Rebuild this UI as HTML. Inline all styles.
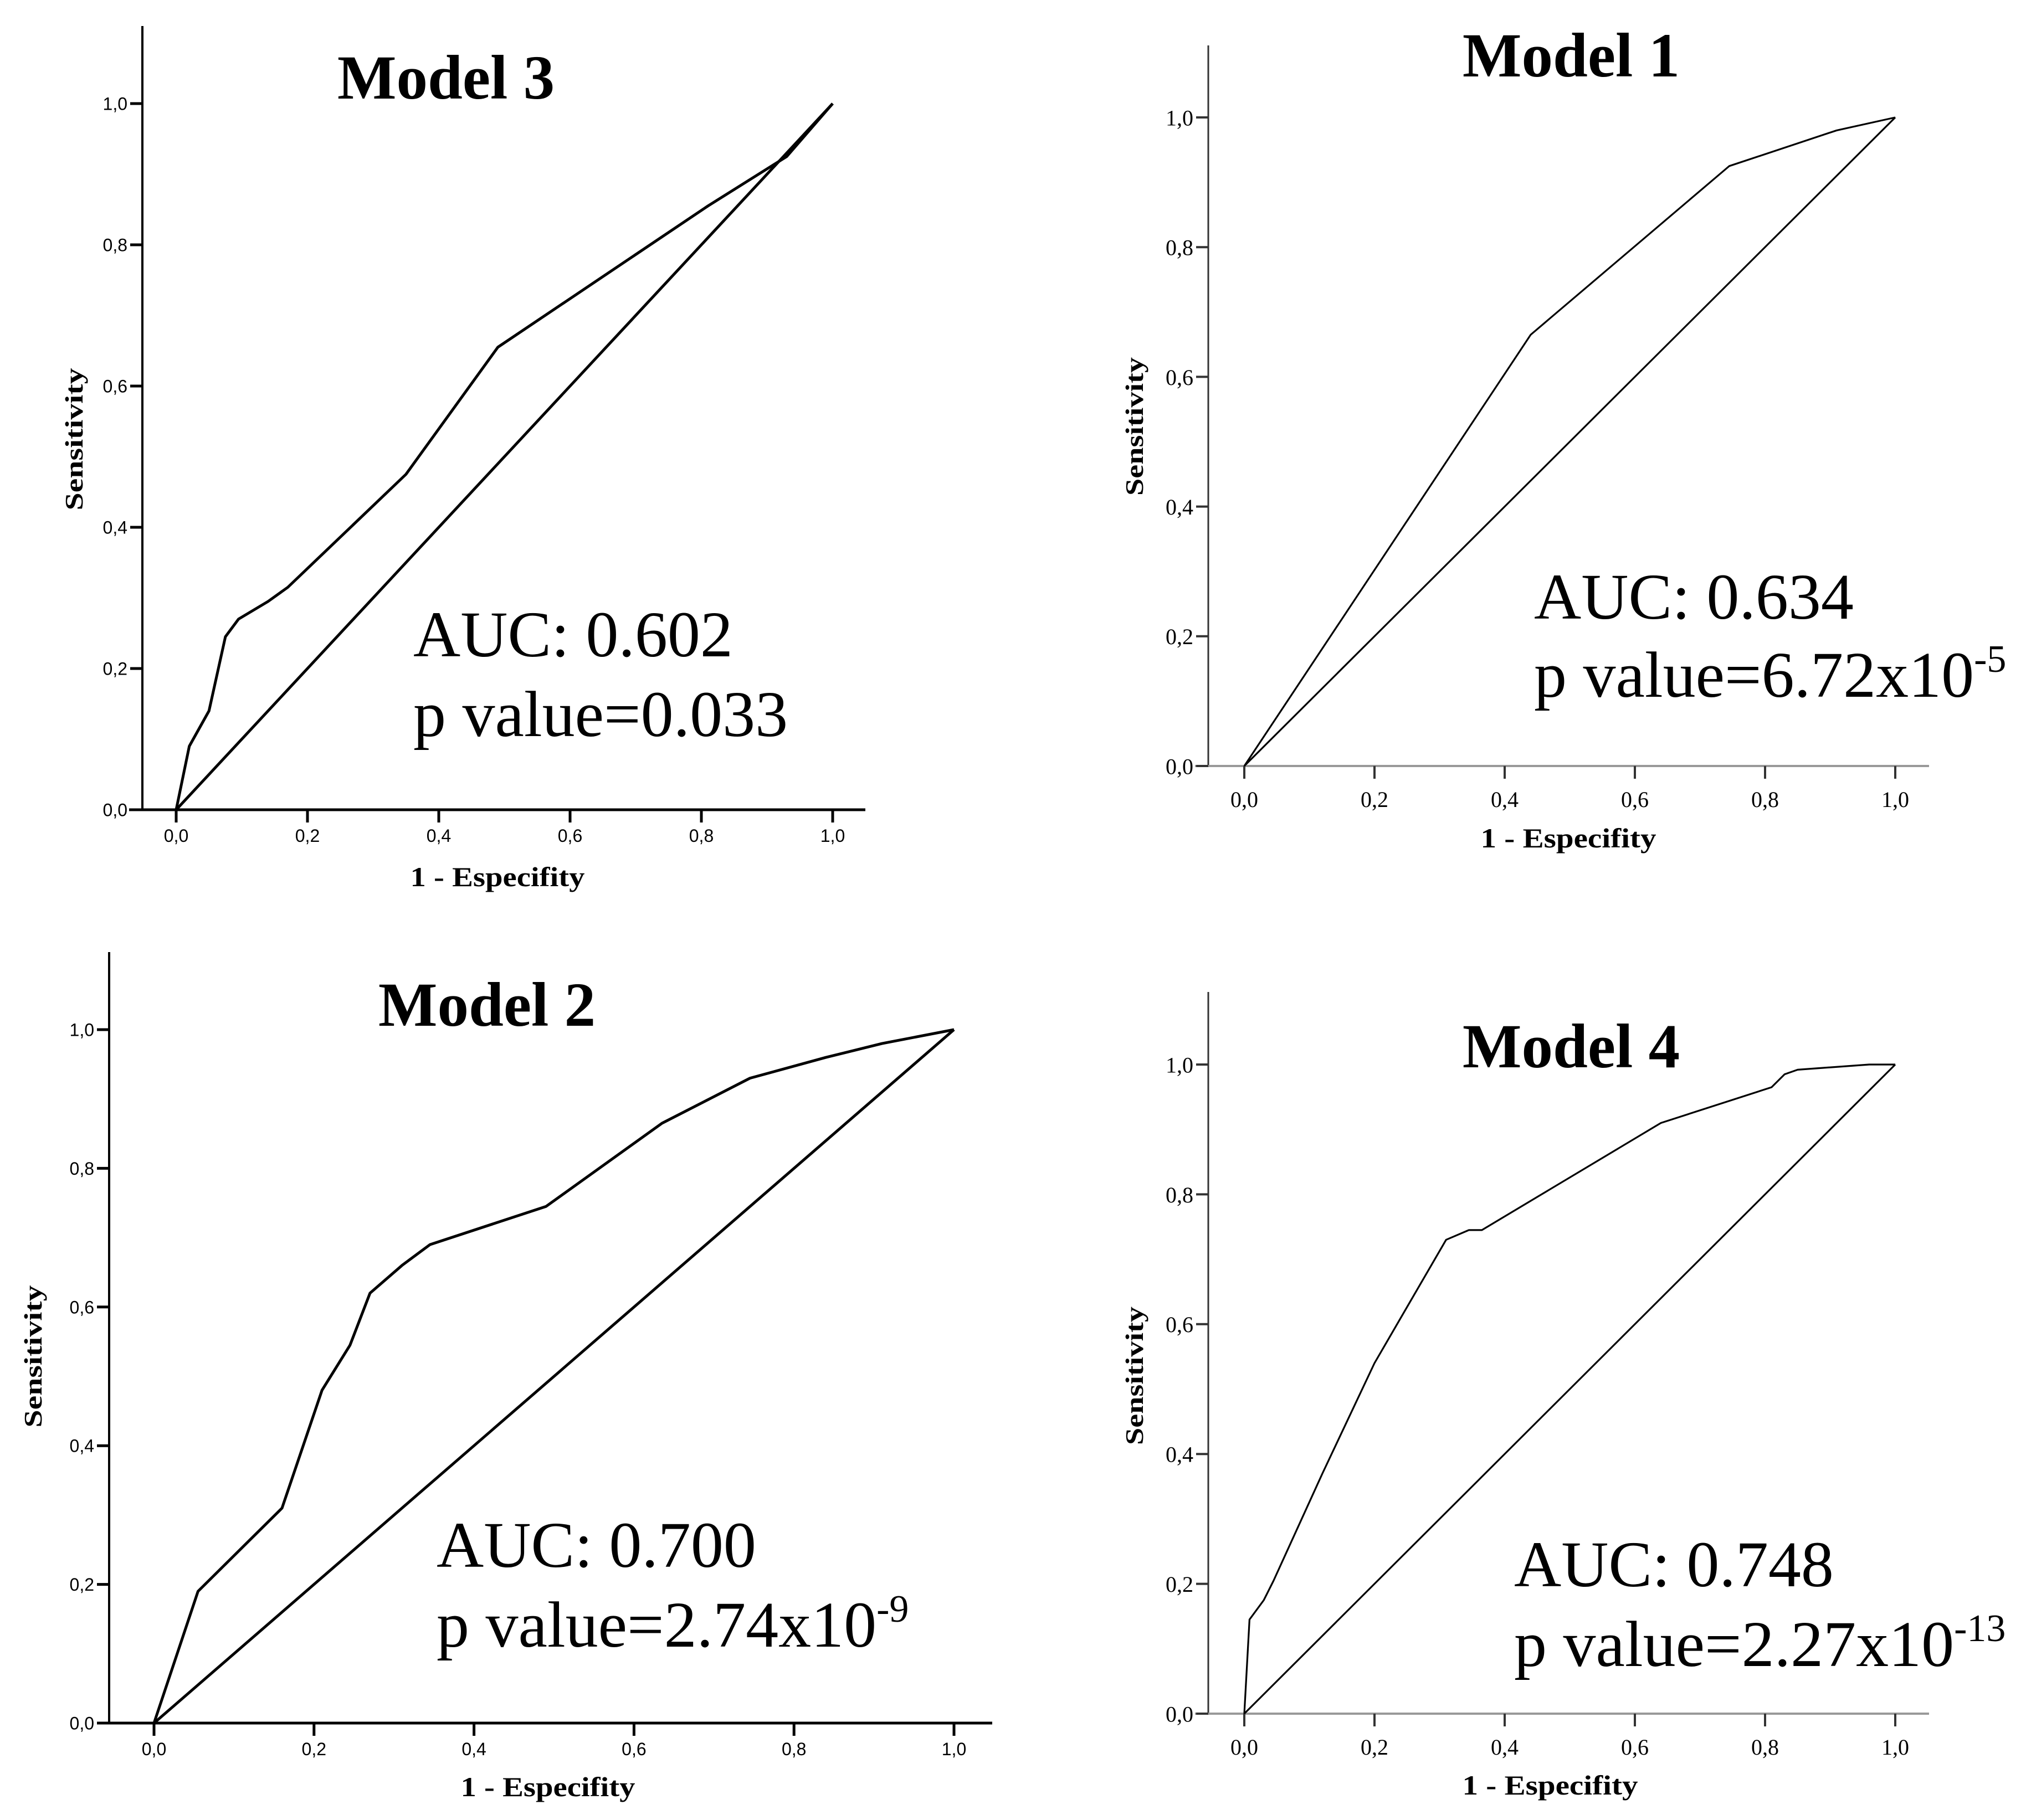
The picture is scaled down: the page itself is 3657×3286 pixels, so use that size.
<!DOCTYPE html>
<html><head><meta charset="utf-8"><style>
html,body{margin:0;padding:0;background:#fff;}
svg{display:block;}
</style></head><body>
<svg id="chart" xmlns="http://www.w3.org/2000/svg" width="3657" height="3286" viewBox="0 0 3657 3286">
<rect width="3657" height="3286" fill="#fff"/>
</svg>
<script>
// Data: ROC curves (1 - specificity, sensitivity)
const model3X = [0,0.02,0.05,0.075,0.095,0.14,0.17,0.35,0.49,0.81,0.93,1];
const model3Y = [0,0.09,0.14,0.245,0.27,0.295,0.315,0.475,0.655,0.855,0.925,1];
const model1X = [0,0.44,0.745,0.91,1];
const model1Y = [0,0.665,0.925,0.98,1];
const model2X = [0,0.055,0.16,0.21,0.245,0.27,0.31,0.345,0.49,0.635,0.745,0.84,0.91,1];
const model2Y = [0,0.19,0.31,0.48,0.545,0.62,0.66,0.69,0.745,0.865,0.93,0.96,0.98,1];
const model4X = [0,0.008,0.03,0.045,0.12,0.2,0.31,0.345,0.365,0.64,0.81,0.83,0.85,0.96,1];
const model4Y = [0,0.145,0.175,0.205,0.37,0.54,0.73,0.745,0.745,0.91,0.965,0.985,0.992,1,1];
const refX = [0,1];
const refY = [0,1];
const tickValues = [0,0.2,0.4,0.6,0.8,1.0];
const tickLabels = ["0,0","0,2","0,4","0,6","0,8","1,0"];

const NS = "http://www.w3.org/2000/svg";
const svg = document.getElementById('chart');
function mk(tag, attrs, parent){
  const e = document.createElementNS(NS, tag);
  for (const k in attrs) e.setAttribute(k, attrs[k]);
  (parent||svg).appendChild(e);
  return e;
}

const panels = [
  {name:'model-3', title:'Model 3', xs:model3X, ys:model3Y, ax:257, top:47, ay:1462, xl:233, xr:1562, x0:318, x1:1503, y1:187,
   style:'spss-old', tx:805, ty:178, auc:'AUC: 0.602', p:['p value=0.033',''], atx:746, aty:1185, pty:1329,
   sx:149, sy:793, sl:257, ex:898, ey:1600, el:315},
  {name:'model-1', title:'Model 1', xs:model1X, ys:model1Y, ax:2181, top:82, ay:1383, xl:2157, xr:3482, x0:2246, x1:3421, y1:212,
   style:'spss-new', tx:2836, ty:138, auc:'AUC: 0.634', p:['p value=6.72x10','-5'], atx:2769, aty:1117, pty:1258,
   sx:2063, sy:770, sl:250, ex:2831, ey:1530, el:317},
  {name:'model-2', title:'Model 2', xs:model2X, ys:model2Y, ax:197, top:1719, ay:3111, xl:175, xr:1791, x0:278, x1:1722, y1:1859,
   style:'spss-old', tx:879, ty:1852, auc:'AUC: 0.700', p:['p value=2.74x10','-9'], atx:788, aty:2829, pty:2973,
   sx:75, sy:2449, sl:257, ex:989, ey:3243, el:315},
  {name:'model-4', title:'Model 4', xs:model4X, ys:model4Y, ax:2181, top:1791, ay:3094, xl:2157, xr:3482, x0:2246, x1:3421, y1:1922,
   style:'spss-new', tx:2836, ty:1927, auc:'AUC: 0.748', p:['p value=2.27x10','-13'], atx:2733, aty:2864, pty:3008,
   sx:2063, sy:2484, sl:250, ex:2798, ey:3240, el:317}
];

panels.forEach(P => {
  const g = mk('g', {});
  
  
  const sxf = v => P.x0 + v*(P.x1-P.x0);
  const syf = v => P.ay + v*(P.y1-P.ay);
  const old = P.style === 'spss-old';
  const axW = old ? 4 : 3;
  const xAxColor = old ? '#000' : '#999';
  const yAxColor = old ? '#000' : '#333';
  const tickFont = old ? '"Liberation Sans", sans-serif' : '"Liberation Serif", serif';
  const tickSize = old ? 32 : 40;

  const yAxis = mk('line', {x1:P.ax, y1:P.top, x2:P.ax, y2:P.ay, stroke:yAxColor, 'stroke-width':axW}, g);
  
  
  const xAxis = mk('line', {x1:P.xl, y1:P.ay, x2:P.xr, y2:P.ay, stroke:xAxColor, 'stroke-width':axW+1}, g);
  
  

  tickValues.forEach((v,i) => {
    const yt = mk('line', {x1:P.ax-22, y1:syf(v), x2:P.ax, y2:syf(v), stroke:yAxColor, 'stroke-width':axW+1}, g);
    
    
    const yl = mk('text', {x:P.ax-27, y:syf(v)+tickSize*0.36, 'text-anchor':'end', 'font-family':tickFont, 'font-size':tickSize, fill:'#000'}, g);
    yl.textContent = tickLabels[i];
    
    
    const xt = mk('line', {x1:sxf(v), y1:P.ay, x2:sxf(v), y2:P.ay+23, stroke:yAxColor, 'stroke-width':axW+1}, g);
    
    
    const xlb = mk('text', {x:sxf(v), y:P.ay+(old?58:74), 'text-anchor':'middle', 'font-family':tickFont, 'font-size':tickSize, fill:'#000'}, g);
    xlb.textContent = tickLabels[i];
    
    
  });

  const lw = old ? 5 : 3.2;
  const ref = mk('polyline', {points: refX.map((x,i)=>sxf(x)+','+syf(refY[i])).join(' '), fill:'none', stroke:'#000', 'stroke-width':lw}, g);
  
  
  const roc = mk('polyline', {points: P.xs.map((x,i)=>sxf(x)+','+syf(P.ys[i])).join(' '), fill:'none', stroke:'#000', 'stroke-width':lw, 'stroke-linejoin':'round'}, g);
  
  

  const t = mk('text', {x:P.tx, y:P.ty, 'text-anchor':'middle', 'font-family':'"Liberation Serif", serif', 'font-weight':'bold', 'font-size':113, fill:'#000'}, g);
  t.textContent = P.title;
  
  

  const a = mk('text', {x:P.atx, y:P.aty, 'font-family':'"Liberation Serif", serif', 'font-size':118, fill:'#000'}, g);
  a.textContent = P.auc;
  
  
  const p = mk('text', {x:P.atx, y:P.pty, 'font-family':'"Liberation Serif", serif', 'font-size':118, fill:'#000'}, g);
  
  
  const s1 = mk('tspan', {}, p); s1.textContent = P.p[0];
  if (P.p[1]) { const s2 = mk('tspan', {'font-size':70, dy:-45}, p); s2.textContent = P.p[1]; }

  const yl = mk('text', {x:0, y:0, transform:`translate(${P.sx},${P.sy}) rotate(-90)`, 'text-anchor':'middle', 'font-family':'"Liberation Serif", serif', 'font-weight':'bold', 'font-size':46, textLength:P.sl, lengthAdjust:'spacingAndGlyphs', fill:'#000'}, g);
  yl.textContent = 'Sensitivity';
  
  
  const xl = mk('text', {x:P.ex - P.el/2, y:P.ey, 'font-family':'"Liberation Serif", serif', 'font-weight':'bold', 'font-size':50, textLength:P.el, lengthAdjust:'spacingAndGlyphs', fill:'#000'}, g);
  xl.textContent = '1 - Especifity';
  
  
});
</script>
</body></html>
